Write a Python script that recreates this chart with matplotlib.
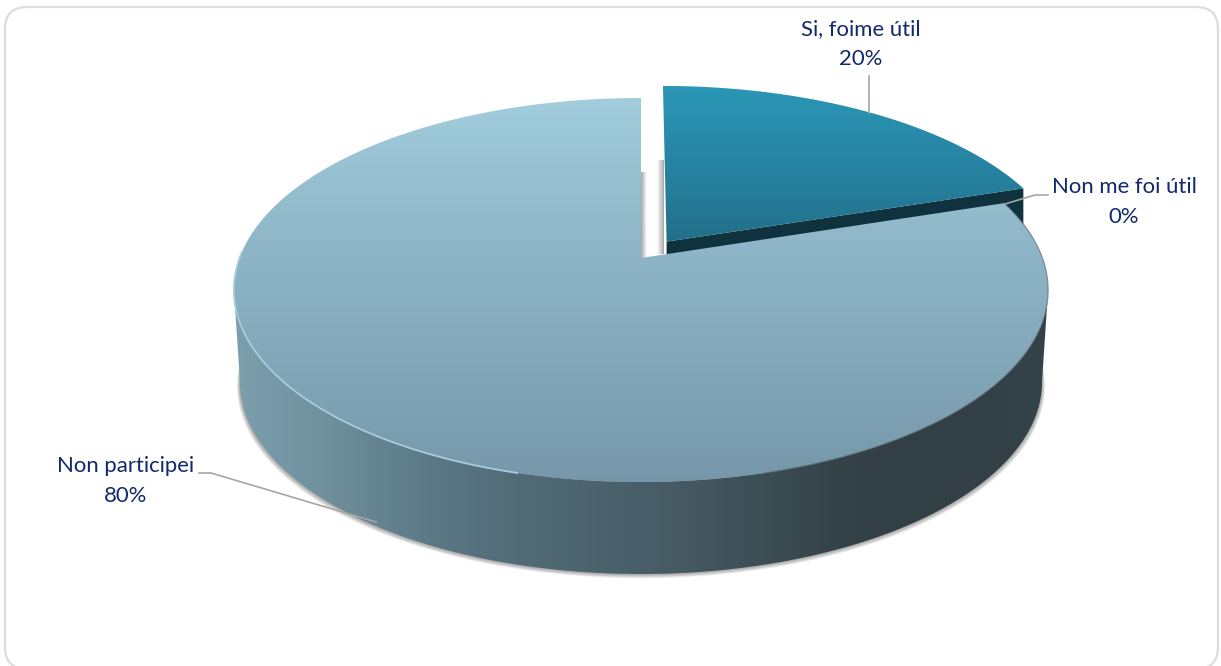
"""Exploded 3D pie with gradient faces, drawn in pixel coordinates."""

import numpy as np
import matplotlib

matplotlib.use("Agg")
import matplotlib.pyplot as plt
from matplotlib.colors import to_rgb
from matplotlib.patches import FancyBboxPatch, Polygon

LABELS = ["Si, foime útil", "Non me foi útil", "Non participei"]
VALUES = [20, 0, 80]

WIDTH, HEIGHT = 1221, 666
CX, CY = 641, 258
SCALE_X, SCALE_Y, PERSPECTIVE = 401.4, 186.67, 1 / 6
DEPTH = 92
BOTTOM_SCALE = 0.985
EXPLODE = 0.11
TEXT_COLOR = "#12296b"
LEADER_COLOR = "#a6a6a6"


def project(theta, radius=1.0, du=0.0, dv=0.0, scale=1.0, drop=0.0):
  """Pie coordinates (degrees clockwise from the top) to pixels."""
  rad = np.radians(theta)
  u = radius * np.sin(rad) + du
  v = radius * np.cos(rad) + dv
  den = 1 + PERSPECTIVE * v
  x = CX + scale * SCALE_X * u / den
  y = CY - SCALE_Y * v / den + drop
  return np.column_stack([x, y])


def gradient(ax, clip_xy, stops, horizontal=False, zorder=1):
  xs, ys = clip_xy[:, 0], clip_xy[:, 1]
  lo, hi = (xs.min(), xs.max()) if horizontal else (ys.min(), ys.max())
  pos = np.linspace(lo, hi, 400)
  at = [s[0] for s in stops]
  rgb = np.array([to_rgb(s[1]) for s in stops])
  img = np.stack([np.interp(pos, at, rgb[:, i]) for i in range(3)], axis=-1)
  img = img[np.newaxis, :, :] if horizontal else img[:, np.newaxis, :]
  im = ax.imshow(
    img,
    extent=[xs.min(), xs.max(), ys.max(), ys.min()],
    aspect="auto",
    zorder=zorder,
    interpolation="bilinear",
  )
  clip = Polygon(clip_xy, closed=True, transform=ax.transData)
  im.set_clip_path(clip)
  return im


def shadow_strip(ax, x_dark, x_light, y0, y1, zorder):
  """Grey band fading sideways from x_dark to x_light."""
  alpha = np.linspace(0.6, 0.0, 24)
  img = np.zeros((1, 24, 4))
  img[..., :3] = 0.42
  img[..., 3] = alpha
  ax.imshow(
    img,
    extent=[x_dark, x_light, y1, y0],
    aspect="auto",
    zorder=zorder,
    interpolation="bilinear",
  )


fig = plt.figure(figsize=(WIDTH / 100, HEIGHT / 100), dpi=100)
ax = fig.add_axes([0, 0, 1, 1])
ax.axis("off")

ax.add_patch(
  FancyBboxPatch(
    (5, 7),
    1213,
    662,
    boxstyle="round,pad=0,rounding_size=22",
    facecolor="white",
    edgecolor="#dcdcdc",
    linewidth=1.6,
    zorder=0,
  )
)

# wedge angles follow the values, clockwise from the top
slice_end = 360 * VALUES[0] / sum(VALUES)
main_start = slice_end + 360 * VALUES[1] / sum(VALUES)

left_turn = 360 - np.degrees(np.arccos(-PERSPECTIVE))
right_turn = np.degrees(np.arccos(-PERSPECTIVE))
front = np.linspace(right_turn, left_turn, 240)

# soft shadow round the front of the base, kept out of the gap between wedges
ring = np.linspace(right_turn - 25, left_turn + 25, 240)
for i in range(7):
  ax.add_patch(
    Polygon(
      project(ring, scale=BOTTOM_SCALE + 0.0012 * i, drop=DEPTH + 0.7 * i),
      closed=True,
      facecolor="#444444",
      edgecolor="none",
      alpha=0.09,
      zorder=1 - 0.01 * i,
    )
  )

# side wall of the main wedge
wall = np.vstack(
  [project(front), project(front[::-1], scale=BOTTOM_SCALE, drop=DEPTH)]
)
gradient(
  ax,
  wall,
  [
    (233, "#7d9fae"),
    (330, "#6f8f9c"),
    (420, "#5c7a87"),
    (520, "#516b76"),
    (680, "#465a63"),
    (800, "#38484e"),
    (880, "#323f44"),
    (1048, "#344249"),
  ],
  horizontal=True,
  zorder=2,
)

# exploded slice: top face and its dark wall
du = EXPLODE * np.sin(np.radians(slice_end / 2))
dv = EXPLODE * np.cos(np.radians(slice_end / 2))
arc = np.linspace(0, slice_end, 120)
apex = project(0, radius=0, du=du, dv=dv)
slice_top = np.vstack([apex, project(arc, du=du, dv=dv)])
slice_wall = np.vstack(
  [
    apex,
    project(slice_end, du=du, dv=dv),
    project(slice_end, du=du, dv=dv, drop=DEPTH),
    project(0, radius=0, du=du, dv=dv, drop=DEPTH),
  ]
)
shadow_strip(ax, 664, 657, 160, 254, zorder=3)
ax.add_patch(Polygon(slice_wall, closed=True, facecolor="#10323f", edgecolor="none", zorder=3.5))
gradient(ax, slice_top, [(86, "#2b96b6"), (190, "#257e9b"), (242, "#216f88")], zorder=4)

# main wedge top face
arc = np.linspace(main_start, 360, 480)
main_apex = project(0, radius=0)
main_top = np.vstack([main_apex, project(arc)])
shadow_strip(ax, 641, 647, 172, 258, zorder=5)
gradient(
  ax,
  main_top,
  [(98, "#a2cddd"), (205, "#93bccd"), (290, "#8ab0c3"), (400, "#7fa3b5"), (482, "#7597a9")],
  zorder=6,
)
# rim: light on the left, darker on the right
rim_left = project(np.linspace(195, 272, 120))
ax.plot(rim_left[:, 0], rim_left[:, 1], color="#a6cddc", lw=1.3, zorder=7)
rim_right = project(np.linspace(main_start, 165, 120))
ax.plot(rim_right[:, 0], rim_right[:, 1], color="#5f6f76", lw=0.9, alpha=0.7, zorder=7)

# leader lines
ax.plot([869, 869], [76, 113], color=LEADER_COLOR, lw=1.2, zorder=8)
ax.plot([1048, 1035, 1005], [195, 195, 204], color=LEADER_COLOR, lw=1.2, zorder=8)
ax.plot([199, 211, 376], [473, 473, 522], color=LEADER_COLOR, lw=1.2, zorder=8)

# data labels
label_pos = [(861, 44), (1124, 202), (126, 481)]
for label, value, (x, y) in zip(LABELS, VALUES, label_pos):
  ax.text(
    x,
    y,
    f"{label}\n{value}%",
    ha="center",
    va="center",
    fontsize=15.9,
    family="Lato",
    color=TEXT_COLOR,
    linespacing=1.6,
    zorder=9,
  )

ax.set_xlim(0, WIDTH)
ax.set_ylim(HEIGHT, 0)
fig.savefig("out.png", dpi=100, facecolor="white")
